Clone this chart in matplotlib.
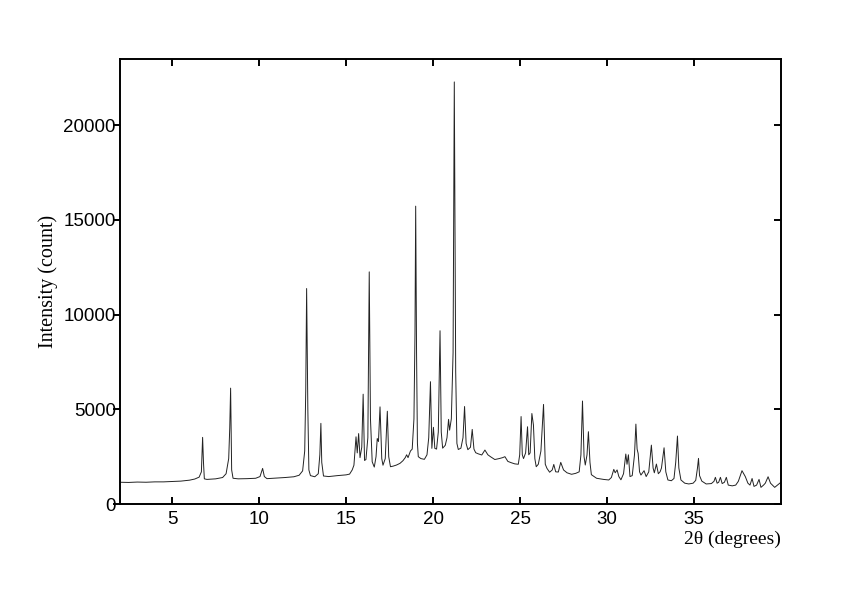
import matplotlib
matplotlib.use("Agg")
import matplotlib.pyplot as plt

# Powder XRD pattern, traced vertex by vertex from the reference (2theta in degrees, counts)
two_theta = [
    2.0, 2.5, 3.0, 3.5, 4.0, 4.5, 5.0, 5.5, 6.0, 6.3, 6.55, 6.68, 6.75, 6.8, 6.85,
    7.0, 7.5, 7.9, 8.1, 8.25, 8.31, 8.36, 8.42, 8.5, 8.8, 9.3, 9.8, 10.05, 10.2, 10.3,
    10.45, 11.0, 11.5, 12.0, 12.3, 12.5, 12.62, 12.68, 12.73, 12.8, 12.86, 12.95, 13.2,
    13.4, 13.49, 13.55, 13.6, 13.7, 14.0, 14.5, 15.0, 15.2, 15.35, 15.45, 15.57, 15.64,
    15.72, 15.8, 15.9, 15.98, 16.06, 16.14, 16.25, 16.33, 16.4, 16.5, 16.62, 16.72,
    16.79, 16.86, 16.95, 17.05, 17.12, 17.25, 17.37, 17.45, 17.55, 17.7, 17.9, 18.1,
    18.27, 18.4, 18.48, 18.56, 18.7, 18.8, 18.9, 18.96, 19.0, 19.05, 19.1, 19.15, 19.3,
    19.5, 19.65, 19.75, 19.85, 19.93, 20.02, 20.1, 20.2, 20.3, 20.4, 20.47, 20.55, 20.7,
    20.8, 20.89, 20.95, 21.05, 21.15, 21.22, 21.3, 21.37, 21.45, 21.6, 21.72, 21.81,
    21.9, 22.0, 22.15, 22.25, 22.35, 22.45, 22.6, 22.8, 22.98, 23.15, 23.3, 23.55, 23.8,
    24.0, 24.13, 24.3, 24.5, 24.7, 24.9, 24.98, 25.06, 25.13, 25.2, 25.32, 25.43, 25.5,
    25.58, 25.68, 25.77, 25.85, 25.93, 26.05, 26.2, 26.35, 26.45, 26.55, 26.7, 26.85,
    26.94, 27.05, 27.2, 27.34, 27.5, 27.7, 27.96, 28.2, 28.4, 28.5, 28.59, 28.68, 28.75,
    28.85, 28.93, 29.02, 29.1, 29.4, 29.8, 30.1, 30.25, 30.39, 30.47, 30.58, 30.68, 30.8,
    30.95, 31.08, 31.15, 31.23, 31.32, 31.45, 31.58, 31.66, 31.73, 31.79, 31.87, 31.95,
    32.13, 32.25, 32.4, 32.55, 32.65, 32.72, 32.84, 32.95, 33.05, 33.13, 33.28, 33.38,
    33.5, 33.7, 33.85, 33.95, 34.05, 34.13, 34.25, 34.47, 34.7, 34.95, 35.1, 35.2, 35.26,
    35.32, 35.45, 35.7, 36.0, 36.15, 36.23, 36.33, 36.42, 36.52, 36.62, 36.75, 36.86,
    36.97, 37.2, 37.4, 37.55, 37.76, 37.95, 38.1, 38.22, 38.34, 38.45, 38.6, 38.74, 38.85,
    39.0, 39.1, 39.26, 39.4, 39.64, 39.8, 40.0,
]
intensity = [
    1150, 1140, 1160, 1150, 1170, 1170, 1190, 1210, 1260, 1320, 1420, 1700, 3520, 2200, 1330,
    1300, 1330, 1400, 1600, 2400, 4000, 6120, 1800, 1360, 1330, 1340, 1360, 1450, 1880, 1450,
    1340, 1370, 1400, 1440, 1520, 1750, 2800, 6000, 11380, 5000, 1800, 1500, 1440,
    1600, 2600, 4260, 2200, 1480, 1450, 1500, 1540, 1580, 1800, 2050, 3550, 2700,
    3720, 2450, 3000, 5800, 2300, 2350, 3500, 12260, 4500, 2230, 1950, 2500,
    3460, 3300, 5130, 2400, 2050, 2400, 4900, 2500, 1970, 2000, 2060, 2150,
    2290, 2450, 2600, 2450, 2800, 2900, 4500, 9000, 15730, 8000, 3200, 2500, 2400,
    2360, 2600, 3500, 6460, 2940, 4050, 2940, 2900, 3800, 9150, 3800, 2950, 3100,
    3500, 4470, 3900, 4500, 8000, 22290, 7000, 3200, 2880, 2950, 3500, 5150,
    3200, 2870, 3000, 3940, 2900, 2710, 2650, 2590, 2850, 2600, 2500, 2350, 2400,
    2450, 2500, 2250, 2180, 2120, 2100, 2600, 4620, 2600, 2400, 2700, 4080, 2600,
    2700, 4780, 4170, 2400, 1970, 2100, 2800, 5260, 2100, 1880, 1680, 1800,
    2090, 1700, 1690, 2200, 1800, 1650, 1570, 1620, 1700, 2600, 5440, 2500, 2060,
    2600, 3820, 2200, 1550, 1360, 1300, 1270, 1400, 1830, 1650, 1800, 1450, 1280,
    1600, 2640, 2100, 2600, 1450, 1500, 2600, 4220, 2900, 2670, 1700, 1530,
    1760, 1450, 1700, 3110, 1900, 1650, 2110, 1600, 1700, 1900, 2970, 1700,
    1270, 1230, 1350, 2200, 3590, 1900, 1270, 1100, 1060, 1100, 1250, 1900, 2410,
    1500, 1210, 1060, 1080, 1200, 1410, 1100, 1150, 1410, 1080, 1150, 1410,
    1000, 960, 1000, 1200, 1760, 1450, 1100, 1000, 1350, 930, 1000, 1300, 880,
    1000, 1100, 1440, 1100, 880, 1000, 1150,
]

x_ticks = [5, 10, 15, 20, 25, 30, 35]
y_ticks = [0, 5000, 10000, 15000, 20000]
x_label = "2\u03b8 (degrees)"
y_label = "Intensity (count)"

fig = plt.figure(figsize=(8.42, 5.95), dpi=100)
ax = fig.add_axes([0.1425, 0.1529, 0.785, 0.7479])
ax.plot(two_theta, intensity, color="#222222", linewidth=0.7)

ax.set_xlim(2, 40)
ax.set_ylim(0, 23500)
ax.set_xticks(x_ticks)
ax.set_yticks(y_ticks)

sans = ["Liberation Sans", "DejaVu Sans"]
serif = ["Liberation Serif", "DejaVu Serif"]
for lab in ax.get_xticklabels() + ax.get_yticklabels():
    lab.set_family(sans)
    lab.set_fontsize(13.5)

for s in ax.spines.values():
    s.set_linewidth(1.4)

ax.tick_params(axis="x", which="both", direction="in", top=True, bottom=True,
               length=5, width=1.4, pad=5)
ax.tick_params(axis="y", which="both", direction="in", left=False, right=True,
               length=5, width=1.4)
ax.tick_params(axis="y", labelleft=True, pad=3)
# left side ticks point outward in the reference
for t in ax.yaxis.get_major_ticks():
    t.tick1line.set_visible(True)
    t.tick1line.set_marker(0)  # TICKLEFT (outward on the left spine)
    t.tick1line.set_markersize(5)
    t.tick1line.set_markeredgewidth(1.4)

ax.set_xlabel(x_label, family=serif, fontsize=14, loc="right", labelpad=2)
ax.set_ylabel(y_label, family=serif, fontsize=14.5, labelpad=4)

fig.savefig("out.png", dpi=100)
